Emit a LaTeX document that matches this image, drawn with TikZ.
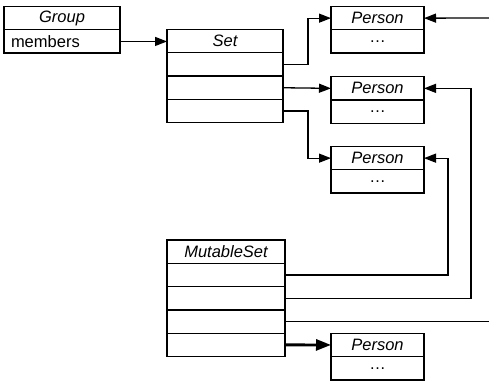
\documentclass[tikz,border=0pt]{standalone}
\usepackage{fontspec}
\setmainfont{Liberation Sans}
\usetikzlibrary{arrows.meta}

\tikzset{
  cell/.style={draw, rectangle, line width=1.3pt, minimum width=#1,
    minimum height=23.3pt, inner sep=0pt, outer sep=0pt, anchor=north west,
    font=\fontsize{16.5}{19}\selectfont},
  head/.style={cell=#1, font=\fontsize{16.5}{19}\selectfont\itshape},
  link/.style={line width=1.3pt, -{Triangle[length=12pt,width=9pt]}},
  plain/.style={line width=1.3pt},
  boldlink/.style={line width=2.8pt, -{Triangle[length=15pt,width=11pt]}}
}

\begin{document}
\begin{tikzpicture}[x=1pt, y=-1pt]
\useasboundingbox (0,0) rectangle (489,380);

% Group object
\node[head=116pt] (grp) at (4,6.5) {Group};
\node[cell=116pt, text width=102pt, inner xsep=7pt, align=left] (grpm) at (grp.south west) {members};

% Set object
\node[head=116pt] (set) at (167,29.5) {Set};
\node[cell=116pt] (set1) at (set.south west) {};
\node[cell=116pt] (set2) at (set1.south west) {};
\node[cell=116pt] (set3) at (set2.south west) {};

% Person objects
\node[head=93pt] (p1) at (331,6.5) {Person};
\node[cell=93pt] (p1b) at (p1.south west) {\dots};
\node[head=93pt] (p2) at (331,76.7) {Person};
\node[cell=93pt] (p2b) at (p2.south west) {\dots};
\node[head=93pt] (p3) at (331,146.5) {Person};
\node[cell=93pt] (p3b) at (p3.south west) {\dots};
\node[head=93pt] (p4) at (331,333.3) {Person};
\node[cell=93pt] (p4b) at (p4.south west) {\dots};

% MutableSet object
\node[head=118pt] (ms) at (167,240) {MutableSet};
\node[cell=118pt] (ms1) at (ms.south west) {};
\node[cell=118pt] (ms2) at (ms1.south west) {};
\node[cell=118pt] (ms3) at (ms2.south west) {};
\node[cell=118pt] (ms4) at (ms3.south west) {};

% free ends at the right border
\coordinate (in1) at (489,18);
\coordinate (out3) at (489,321);

% references
\draw[link] (grpm.east) -- (grpm.east -| set.west);
\draw[link] (set1.east) -- ++(25,0) |- (p1.west);
\draw[link] (set2.east) -- (p2.west);
\draw[link] (set3.east) -- ++(25,0) |- (p3.west);
\draw[link] (in1) -- (p1.east);
\draw[link] (ms1.east) -- ++(163,0) |- (p3.east);
\draw[link] (ms2.east) -- ++(186,0) |- (p2.east);
\draw[plain] (ms3.east) -- (ms3.east -| out3);
\draw[boldlink] (ms4.east) -- (p4.west);
\end{tikzpicture}
\end{document}
